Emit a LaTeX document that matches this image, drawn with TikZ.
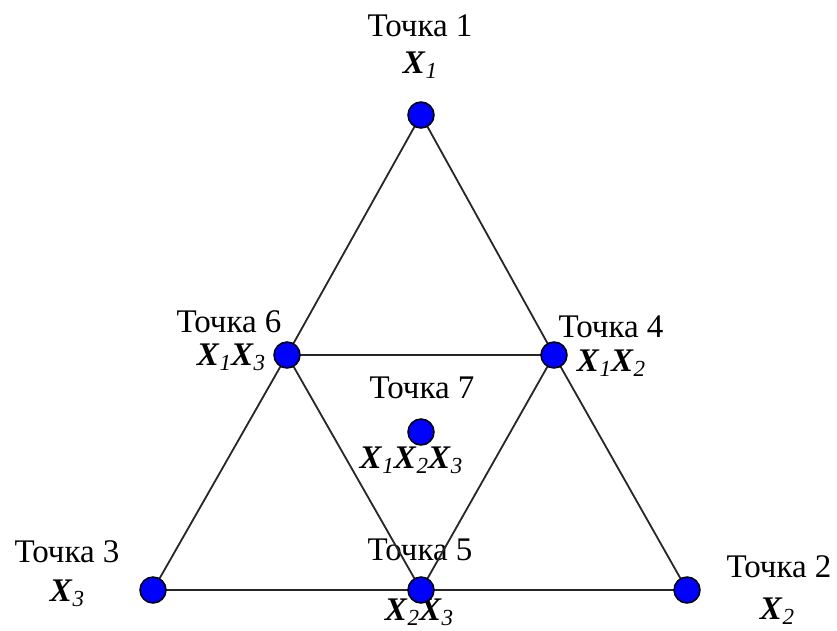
\documentclass[tikz,border=0pt]{standalone}
\usepackage{fontspec}
\setmainfont{Liberation Serif}
\pgfdeclarelayer{labels}
\pgfdeclarelayer{edges}
\pgfsetlayers{labels,edges,main}
\newcommand\Xs[1]{\textbf{\textit{X}}\raisebox{-5pt}{\fontsize{23}{23}\selectfont\textit{#1}}}
\tikzset{
  pt/.style={circle, draw=black, fill=blue, line width=1.5pt, minimum size=26pt, inner sep=0pt},
  lbl/.style={anchor=base, inner sep=0pt, font=\fontsize{33}{36}\selectfont},
  edge/.style={draw=black!85, line width=1.8pt}
}
\begin{document}
\begin{tikzpicture}[x=1pt, y=-1pt]
\useasboundingbox (0,0) rectangle (837,630);
\begin{pgfonlayer}{labels}
\node[lbl] (t1) at (420,36) {Точка 1};
\node[lbl] (x1) at (420,73) {\Xs{1}};
\node[lbl] (t6) at (229,332) {Точка 6};
\node[lbl] (x6) at (231,365) {\Xs{1}\Xs{3}};
\node[lbl] (t4) at (611,337) {Точка 4};
\node[lbl] (x4) at (611,371) {\Xs{1}\Xs{2}};
\node[lbl] (t7) at (422,398) {Точка 7};
\node[lbl] (x7) at (411,468) {\Xs{1}\Xs{2}\Xs{3}};
\node[lbl] (t3) at (67,562) {Точка 3};
\node[lbl] (x3) at (67,601) {\Xs{3}};
\node[lbl] (t5) at (420,560) {Точка 5};
\node[lbl] (x5) at (419,620) {\Xs{2}\Xs{3}};
\node[lbl] (t2) at (779,577) {Точка 2};
\node[lbl] (x2) at (777,619) {\Xs{2}};
\end{pgfonlayer}
\node[pt] (p1) at (421,115) {};
\node[pt] (p3) at (153,590) {};
\node[pt] (p2) at (687,590) {};
\node[pt] (p6) at (287,355) {};
\node[pt] (p4) at (554,355) {};
\node[pt] (p5) at (421,590) {};
\node[pt] (p7) at (421,432) {};
\begin{pgfonlayer}{edges}
\draw[edge] (p1.center) -- (p6.center) -- (p3.center) -- (p5.center) -- (p2.center) -- (p4.center) -- (p1.center);
\draw[edge] (p6.center) -- (p4.center) -- (p5.center) -- (p6.center);
\end{pgfonlayer}
\end{tikzpicture}
\end{document}
